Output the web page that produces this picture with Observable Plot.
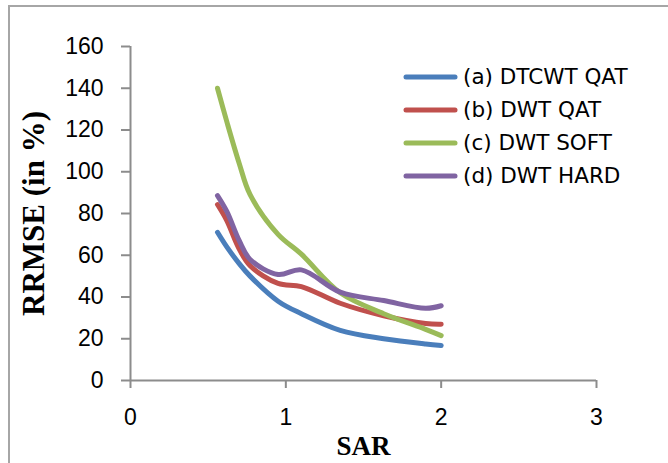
<!DOCTYPE html>
<html><head><meta charset="utf-8">
<script src="https://cdn.jsdelivr.net/npm/d3@7"></script>
<script src="https://cdn.jsdelivr.net/npm/@observablehq/plot@0.6"></script>
<style>
html,body{margin:0;padding:0;background:#fff;overflow:hidden;}
#wrap{position:relative;width:668px;height:463px;overflow:hidden;}
#frame{position:absolute;left:8px;top:5px;width:700px;height:500px;border:2px solid #a6a6a6;box-sizing:border-box;}
#chart{position:absolute;left:0;top:0;}
#legend{position:absolute;left:403px;top:60px;font-family:"DejaVu Sans";font-size:21.5px;color:#000;}
.row{display:flex;align-items:center;height:33px;white-space:nowrap;}
.row svg{margin-right:5px;display:block;}
</style></head><body>
<div id="wrap"><div id="frame"></div><div id="chart"></div><div id="legend"></div></div>
<script>
// SAR values (x)
const sar = [0.56, 0.62, 0.7, 0.77, 0.95, 1.1, 1.35, 1.63, 1.9, 2.0];
// RRMSE values (%) per series
const dtcwtQat = [71, 64, 56, 50, 38, 32, 24, 20, 17.5, 16.8];
const dwtQat   = [84.3, 76.6, 63, 55, 46.5, 45, 37, 31, 27.3, 27];
const dwtSoft  = [140, 124, 104, 89, 70, 60.5, 42, 32, 24.5, 21.5];
const dwtHard  = [88.6, 81, 67, 58, 50.8, 53, 42.3, 38.3, 34.6, 35.8];
const seriesNames = ["(a) DTCWT QAT", "(b) DWT QAT", "(c) DWT SOFT", "(d) DWT HARD"];
const colors = ["#4a7ebb", "#c0504d", "#9bbb59", "#8064a2"];
const xTicks = [0, 1, 2, 3];
const yTicks = [0, 20, 40, 60, 80, 100, 120, 140, 160];
const xLabel = "SAR";
const yLabel = "RRMSE (in %)";

const values = [dtcwtQat, dwtQat, dwtSoft, dwtHard];
const data = seriesNames.flatMap((name, i) => sar.map((x, j) => ({series: name, x, y: values[i][j]})));
const axisGray = "#8c8c8c";

const chart = Plot.plot({
  width: 668, height: 463,
  marginLeft: 130, marginRight: 72, marginTop: 46, marginBottom: 83,
  style: {background: "transparent", fontFamily: "Liberation Sans", fontSize: "23px", color: "black", overflow: "visible"},
  x: {domain: [0, 3]},
  y: {domain: [0, 160]},
  color: {domain: seriesNames, range: colors},
  marks: [
    Plot.axisY({ticks: yTicks, tickSize: 9, tickPadding: 18, stroke: axisGray, strokeWidth: 2, fill: "black", label: null, tickFormat: d => d}),
    Plot.axisX({ticks: xTicks, tickSize: 8, tickPadding: 20, stroke: axisGray, strokeWidth: 2, fill: "black", label: null, tickFormat: d => d}),
    Plot.ruleX([0], {stroke: axisGray, strokeWidth: 2}),
    Plot.ruleY([0], {stroke: axisGray, strokeWidth: 2}),
    Plot.line(data, {x: "x", y: "y", z: "series", stroke: "series", strokeWidth: 5, curve: "catmull-rom", strokeLinecap: "round", strokeLinejoin: "round"}),
    Plot.text([yLabel], {frameAnchor: "left", dx: -96, rotate: -90, textAnchor: "middle", fontFamily: "Liberation Serif", fontWeight: "bold", fontSize: 31, fill: "black", lineAnchor: "middle"}),
    Plot.text([xLabel], {frameAnchor: "bottom", dy: 66, fontFamily: "Liberation Serif", fontWeight: "bold", fontSize: 27, fill: "black", lineAnchor: "middle"})
  ]
});
document.getElementById("chart").appendChild(chart);

const legend = document.getElementById("legend");
seriesNames.forEach((name, i) => {
  const row = document.createElement("div");
  row.className = "row";
  row.innerHTML = `<svg width="55" height="10"><line x1="3" y1="5" x2="52" y2="5" stroke="${colors[i]}" stroke-width="5" stroke-linecap="round"/></svg><span>${name}</span>`;
  legend.appendChild(row);
});
</script>
</body></html>
